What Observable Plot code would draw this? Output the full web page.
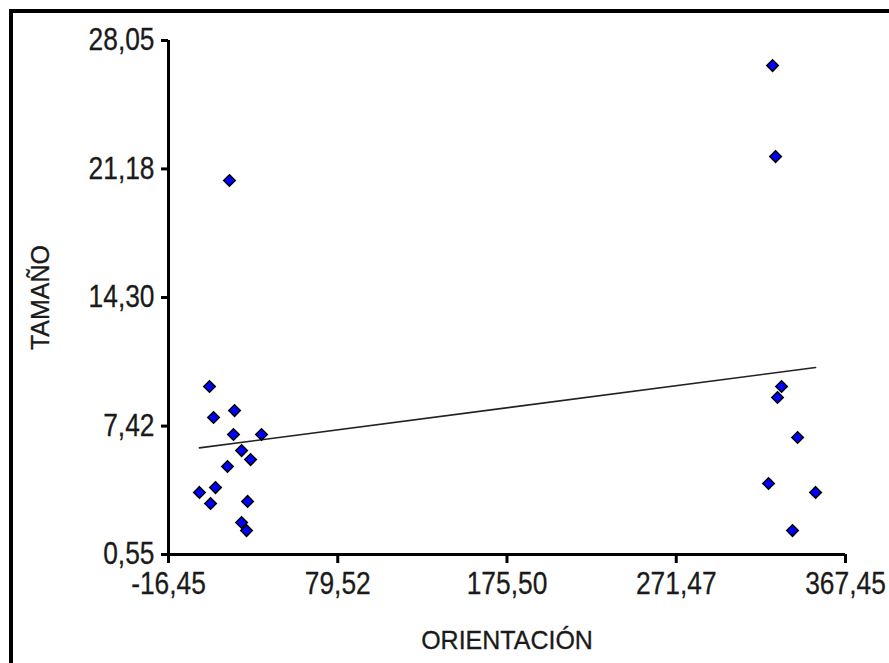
<!DOCTYPE html>
<html>
<head>
<meta charset="utf-8">
<script src="https://cdn.jsdelivr.net/npm/d3@7"></script>
<script src="https://cdn.jsdelivr.net/npm/@observablehq/plot@0.6"></script>
<style>
  html, body { margin: 0; padding: 0; background: #fff; overflow: hidden; }
  #wrap { position: relative; width: 889px; height: 663px; }
  #frame { position: absolute; left: 9px; top: 9px; width: 2000px; height: 2000px;
           border-left: 4px solid #000; border-top: 4px solid #000; pointer-events: none; }
  #chart { position: absolute; left: 0; top: 0; }
</style>
</head>
<body>
<div id="wrap"><div id="chart"></div><div id="frame"></div></div>
<script>
// Data
const orientacion = [18.1, 6.8, 9.1, 21.0, 20.4, 36.3, 25.0, 30.1, 17.0, 1.1, 10.2, 7.4, 28.4, 25.0, 27.8,
                     326.1, 327.8, 331.2, 328.9, 340.3, 323.8, 350.5, 337.4];
const tamano = [20.56, 9.54, 7.88, 8.25, 6.97, 6.97, 6.11, 5.63, 5.26, 3.87, 4.13, 3.28, 3.39, 2.26, 1.83,
                26.71, 21.84, 9.54, 8.95, 6.81, 4.35, 3.87, 1.83];
const xTicks = [-16.45, 79.52, 175.50, 271.47, 367.45];
const yTicks = [0.55, 7.42, 14.30, 21.18, 28.05];
const xTitle = "ORIENTACIÓN";
const yTitle = "TAMAÑO";

const data = orientacion.map((x, i) => ({x, y: tamano[i]}));
const fmt = d => d.toFixed(2).replace(".", ",");
const font = "Liberation Sans, Arial, sans-serif";

const chart = Plot.plot({
  width: 889,
  height: 663,
  marginLeft: 168,
  marginRight: 44,
  marginTop: 40,
  marginBottom: 109,
  style: {fontFamily: font, color: "#1a1a1a", background: "transparent"},
  x: {domain: [xTicks[0], xTicks[xTicks.length - 1]]},
  y: {domain: [yTicks[0], yTicks[yTicks.length - 1]]},
  marks: [
    Plot.axisX({ticks: xTicks, tickFormat: fmt, tickSize: 9, tickPadding: 8, fontSize: 31,
                strokeWidth: 3, stroke: "#000",
                label: xTitle, labelAnchor: "center", labelArrow: "none", labelOffset: 94}),
    Plot.axisY({ticks: yTicks, tickFormat: fmt, tickSize: 7, tickPadding: 7, fontSize: 31,
                strokeWidth: 3, stroke: "#000",
                label: yTitle, labelAnchor: "center", labelArrow: "none", labelOffset: 137}),
    Plot.ruleX([xTicks[0]], {stroke: "#000", strokeWidth: 3}),
    Plot.ruleY([yTicks[0]], {stroke: "#000", strokeWidth: 3}),
    Plot.linearRegressionY(data, {x: "x", y: "y", ci: 0, stroke: "#222", strokeWidth: 1.6}),
    Plot.dot(data, {x: "x", y: "y", symbol: "diamond2", r: 5.2, fill: "#0000ff", stroke: "#000", strokeWidth: 1.5})
  ]
});
document.getElementById("chart").appendChild(chart);
// axis titles a bit larger
chart.querySelectorAll("g[aria-label='x-axis label'] text, g[aria-label='y-axis label'] text")
  .forEach(t => { t.setAttribute("font-size", "25"); t.setAttribute("stroke", "#1a1a1a"); t.setAttribute("stroke-width", "0.3"); });
// tick labels appear condensed in the reference
chart.querySelectorAll("g[aria-label='x-axis tick label'] text, g[aria-label='y-axis tick label'] text")
  .forEach(t => {
    const len = t.getComputedTextLength();
    t.setAttribute("textLength", (len * 0.85).toFixed(1));
    t.setAttribute("lengthAdjust", "spacingAndGlyphs");
    t.setAttribute("stroke", "#1a1a1a");
    t.setAttribute("stroke-width", "0.3");
  });
</script>
</body>
</html>
